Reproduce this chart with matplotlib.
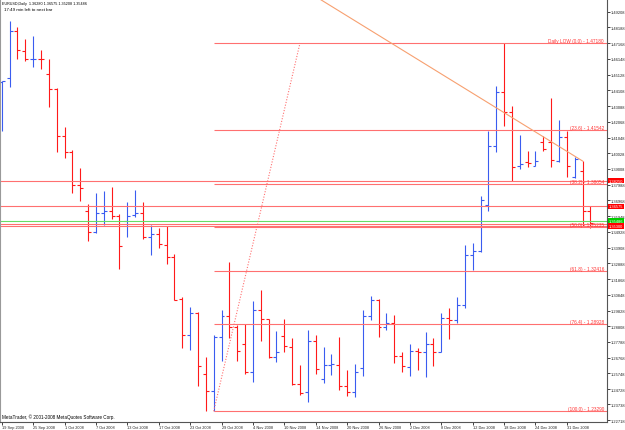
import matplotlib.pyplot as plt

# EURUSD daily bars, 19 Sep 2008 .. 5 Jan 2009 (bar index = x)
opens = [1.4465, 1.4491, 1.4794, 1.4668, 1.4612, 1.4614, 1.4517, 1.4420, 1.4117, 1.4009,
         1.3799, 1.3630, 1.3490, 1.3617, 1.3630, 1.3598, 1.3565, 1.3602, 1.3615, 1.3458,
         1.3479, 1.3408, 1.3328, 1.3058, 1.2824, 1.2965, 1.2571, 1.2463, 1.2813, 1.2947,
         1.2874, 1.2766, 1.2586, 1.2988, 1.2926, 1.2679, 1.2816, 1.2744, 1.2506, 1.2452,
         1.2783, 1.2539, 1.2629, 1.2631, 1.2495, 1.2452, 1.2610, 1.2949, 1.3053, 1.2878,
         1.2900, 1.2690, 1.2618, 1.2718, 1.2712, 1.2766, 1.2715, 1.2934, 1.2921, 1.3019,
         1.3343, 1.3372, 1.3667, 1.4048, 1.4402, 1.4269, 1.3920, 1.3948, 1.3922, 1.4074,
         1.4078, 1.3955, 1.4106, 1.3849, 1.3886, 1.36280]
highs = [1.4474, 1.4863, 1.4820, 1.4744, 1.4765, 1.4675, 1.4614, 1.4426, 1.4175, 1.4024,
         1.3905, 1.3674, 1.3745, 1.3756, 1.3782, 1.3609, 1.3685, 1.3765, 1.3689, 1.3538,
         1.3516, 1.3533, 1.3349, 1.3072, 1.3004, 1.2971, 1.2681, 1.2826, 1.2988, 1.3299,
         1.2889, 1.2895, 1.3047, 1.3116, 1.2930, 1.2848, 1.2928, 1.2803, 1.2629, 1.2858,
         1.2824, 1.2744, 1.2701, 1.2813, 1.2597, 1.2636, 1.2986, 1.3079, 1.3058, 1.2967,
         1.2956, 1.2712, 1.2766, 1.2740, 1.2845, 1.2803, 1.2967, 1.2999, 1.3069, 1.3408,
         1.3420, 1.3728, 1.4149, 1.4437, 1.4718, 1.4307, 1.4121, 1.4016, 1.4016, 1.4117,
         1.4361, 1.4221, 1.4149, 1.3981, 1.3955, 1.36575]
lows = [1.4149, 1.4431, 1.4614, 1.4603, 1.4560, 1.4549, 1.4301, 1.4009, 1.3970, 1.3745,
        1.3695, 1.3436, 1.3484, 1.3539, 1.3576, 1.3252, 1.3458, 1.3587, 1.3447, 1.3343,
        1.3386, 1.3285, 1.3051, 1.2738, 1.2727, 1.2495, 1.2331, 1.2329, 1.2657, 1.2803,
        1.2657, 1.2571, 1.2521, 1.2787, 1.2675, 1.2651, 1.2716, 1.2500, 1.2435, 1.2388,
        1.2571, 1.2511, 1.2565, 1.2469, 1.2430, 1.2420, 1.2560, 1.2921, 1.2813, 1.2858,
        1.2642, 1.2582, 1.2560, 1.2599, 1.2550, 1.2625, 1.2713, 1.2798, 1.2900, 1.2999,
        1.3248, 1.3365, 1.3630, 1.4009, 1.4182, 1.3821, 1.3901, 1.3916, 1.3918, 1.4016,
        1.3916, 1.3944, 1.3851, 1.3842, 1.3533, 1.35208]
closes = [1.4472, 1.4794, 1.4673, 1.4614, 1.4614, 1.4612, 1.4420, 1.4117, 1.4009, 1.3799,
          1.3776, 1.3490, 1.3615, 1.3626, 1.3598, 1.3399, 1.3594, 1.3615, 1.3458, 1.3479,
          1.3414, 1.3328, 1.3053, 1.2824, 1.2965, 1.2625, 1.2461, 1.2813, 1.2947, 1.2874,
          1.2722, 1.2582, 1.2988, 1.2926, 1.2679, 1.2712, 1.2751, 1.2506, 1.2446, 1.2783,
          1.2604, 1.2631, 1.2633, 1.2495, 1.2452, 1.2586, 1.2949, 1.3053, 1.2878, 1.2900,
          1.2690, 1.2621, 1.2718, 1.2712, 1.2766, 1.2712, 1.2934, 1.2921, 1.3019, 1.3343,
          1.3367, 1.3700, 1.4048, 1.4402, 1.4269, 1.3916, 1.3933, 1.3938, 1.3955, 1.4030,
          1.3961, 1.4106, 1.3922, 1.3966, 1.3630, 1.35486]

date_bars = [0, 4, 8, 12, 16, 20, 24, 28, 32, 36, 40, 44, 48, 52, 56, 60, 64, 68, 72]
date_labels = ["19 Sep 2008", "25 Sep 2008", "1 Oct 2008", "7 Oct 2008", "13 Oct 2008",
               "17 Oct 2008", "23 Oct 2008", "29 Oct 2008", "4 Nov 2008", "10 Nov 2008",
               "14 Nov 2008", "20 Nov 2008", "26 Nov 2008", "2 Dec 2008", "8 Dec 2008",
               "12 Dec 2008", "18 Dec 2008", "24 Dec 2008", "31 Dec 2008"]
price_ticks = [1.49208, 1.48188, 1.47168, 1.46148, 1.45128, 1.44108, 1.43088, 1.42068,
               1.41048, 1.40028, 1.39008, 1.37988, 1.36968, 1.35948, 1.34928, 1.33908,
               1.32888, 1.31868, 1.30848, 1.29828, 1.28808, 1.27788, 1.26768, 1.25748,
               1.24728, 1.23738, 1.22718]

# fibonacci retracement
fib_start = (27, 1.23290)
fib_end = (38, 1.47180)
fib_pcts = ["0.0", "23.6", "38.2", "50.0", "61.8", "76.4", "100.0"]
fib_levels = [1.47180, 1.41542, 1.38054, 1.35235, 1.32416, 1.28928, 1.23290]

# horizontal lines across the whole chart
hlines_red = [1.38250, 1.36575, 1.35420, 1.35300]
hline_green = 1.35654
price_boxes = [("1.38250", 1.38250, "red"), ("1.36575", 1.36575, "red"),
               ("1.35486", 1.35654, "#00cc00"), ("1.35300", 1.35300, "red")]

# descending trend line
trend_x = [40.5, 74.0]
trend_y = [1.50034, 1.39526]

plt.rcParams['font.family'] = ['Liberation Sans', 'DejaVu Sans']

fig = plt.figure(figsize=(6.25, 4.31), dpi=100)
ax = fig.add_axes([0.0, 8 / 431, 607 / 625, 423 / 431])
ax.set_xlim(-0.22, 77.11)
ax.set_ylim(1.22597, 1.50034)

BLUE = '#3a5cf0'
RED = '#ff1a1a'
tick = 0.38
for i in range(len(opens)):
    c = BLUE if closes[i] >= opens[i] else RED
    ax.vlines(i, lows[i], highs[i], color=c, lw=0.8)
    ax.hlines(opens[i], i - tick, i, color=c, lw=0.8)
    ax.hlines(closes[i], i, i + tick, color=c, lw=0.8)

LINE = '#ff7070'
for p in hlines_red:
    ax.axhline(p, color=LINE, lw=0.8)
ax.axhline(hline_green, color='#66dd66', lw=0.8)

for pct, lvl in zip(fib_pcts, fib_levels):
    ax.hlines(lvl, fib_start[0], 77.2, color=LINE, lw=0.8)
    name = "Daily LOW (%s) - %.5f" % (pct, lvl) if pct == "0.0" else "(%s) - %.5f" % (pct, lvl)
    ax.text(604 / 607, lvl, name, transform=ax.get_yaxis_transform(), ha='right',
            va='bottom', fontsize=3.45, color='#ff3333')
ax.plot([fib_start[0], fib_end[0]], [fib_start[1], fib_end[1]], color=LINE, lw=0.8,
        ls=(0, (1, 1.5)))

ax.plot(trend_x, trend_y, color='#f7a070', lw=0.8)

for txt, p, col in price_boxes:
    ax.text(1.0035, p, txt, transform=ax.get_yaxis_transform(), ha='left', va='center',
            fontsize=2.85, color='white', clip_on=False,
            bbox=dict(boxstyle='square,pad=0.2', fc=col, ec='none'))

ax.yaxis.tick_right()
ax.set_yticks(price_ticks)
ax.set_yticklabels(["%.5f" % v for v in price_ticks])
ax.set_xticks(date_bars)
ax.set_xticklabels(date_labels, ha='left')
ax.tick_params(axis='y', direction='out', length=2, width=0.6, pad=0.8, labelsize=2.85,
               colors='#222222')
ax.tick_params(axis='x', direction='out', length=2, width=0.6, pad=0.5, labelsize=2.75,
               colors='#222222')

ax.spines['top'].set_visible(False)
ax.spines['left'].set_color('#999999')
for s in ['right', 'bottom']:
    ax.spines[s].set_color('#555555')
    ax.spines[s].set_linewidth(0.8)

fig.text(2 / 625, 1 - 4 / 431, "EURUSD,Daily  1.36280 1.36575 1.35208 1.35486",
         fontsize=2.7, va='center', ha='left', color='black')
fig.text(4 / 625, 1 - 10 / 431, "17:49 min left to next bar", fontsize=3.2, va='center',
         ha='left', color='black')
fig.text(2 / 625, 1 - 417 / 431, "MetaTrader, \u00a9 2001-2008 MetaQuotes Software Corp.",
         fontsize=3.3, va='center', ha='left', color='black')

fig.savefig('out.png', dpi=100, facecolor='white')
